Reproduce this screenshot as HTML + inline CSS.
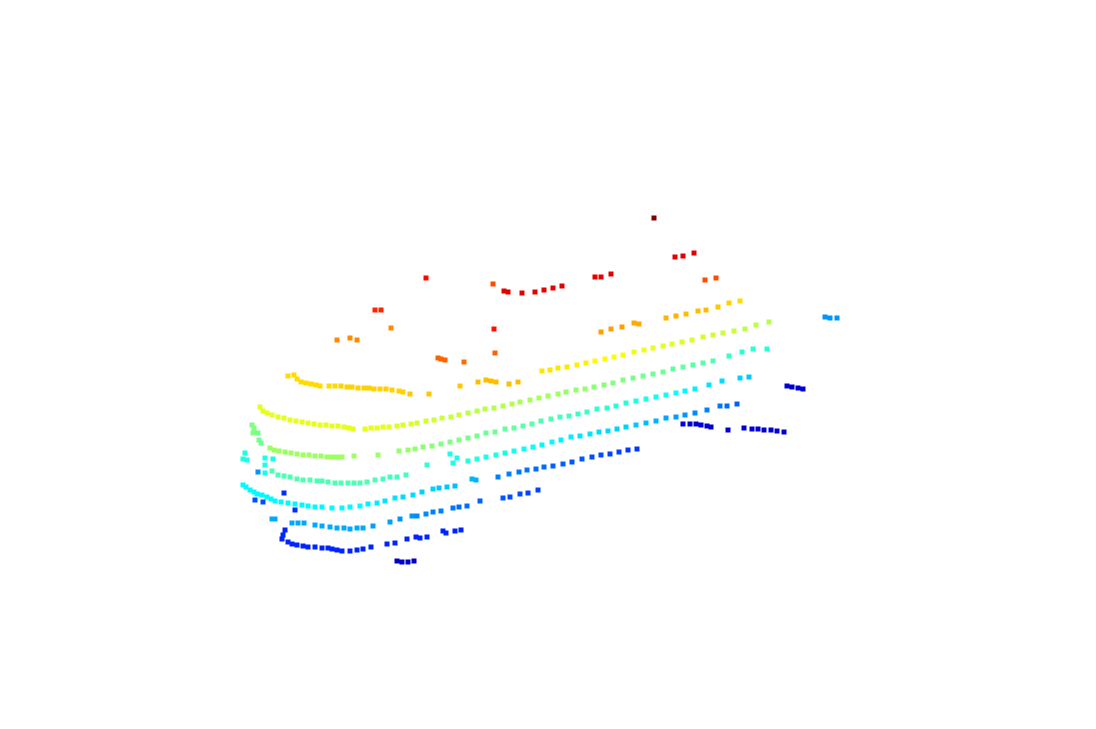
<!DOCTYPE html>
<html><head><meta charset="utf-8"><title>Point cloud</title>
<style>html,body{margin:0;padding:0;background:#fff;}svg{display:block;}</style></head>
<body>
<svg id="chart" width="1096" height="729" viewBox="0 0 1096 729" xmlns="http://www.w3.org/2000/svg">
<rect width="1096" height="729" fill="#fff"/>
<g id="points"></g>
</svg>
<script>
// Each series: flat triples [x, y, z] in projected data units; z = height (colour)
const seriesTop = [
654,218,1.0, 675,257,0.9,683,256,0.9,694,253,0.9, 595,277,0.9,601,277,0.9,611,274,0.9,
504,291,0.9,508,292,0.9,522,293,0.9,535,292,0.9,544,290,0.9,553,288,0.9,562,286,0.9,
426,278,0.87, 493,284,0.8, 705,280,0.8,716,278,0.8, 375,310,0.84,381,310,0.84, 494,329,0.86,
391,328,0.74, 337,340,0.74,350,338,0.74,357,340,0.74, 438,358,0.78,441,359,0.78,445,360,0.78,464,362,0.77, 495,353,0.78
];
const seriesRoof = [
601,332,0.72,611,329,0.72,622,327,0.72,634,323,0.71,639,324,0.71,666,318,0.7,676,316,0.7,686,314,0.69,698,311,0.69,706,310,0.69,718,307,0.68,729,303,0.67,740,301,0.66
];
const seriesYellow = [
288,376,0.66,294,375,0.66,297,379,0.66,301,382,0.66,306,383,0.66,311,384,0.66,316,385,0.66,320,386,0.66,329,386,0.66,335,386,0.66,341,386,0.67,347,387,0.67,352,387,0.67,358,388,0.67,364,388,0.67,369,388,0.67,374,389,0.67,380,389,0.67,386,389,0.67,392,390,0.67,399,391,0.67,403,392,0.67,410,394,0.68,
429,394,0.68,460,386,0.68,478,382,0.69,486,380,0.69,491,381,0.69,496,382,0.69,509,384,0.69,518,382,0.69,
542,371,0.65,550,370,0.65,558,368,0.65,567,367,0.65,577,365,0.64,586,363,0.64,595,361,0.63,605,359,0.63,614,357,0.62,623,355,0.62,634,352,0.61,644,350,0.61,653,348,0.6,663,346,0.6,672,344,0.6,682,342,0.59,692,340,0.59,703,337,0.58,713,335,0.58,723,333,0.57,734,331,0.57,745,329,0.56,756,325,0.56,769,322,0.55
];
const seriesYellowGreen = [
260,407,0.6,263,411,0.6,267,413,0.6,272,415,0.6,278,417,0.6,284,418,0.6,290,420,0.6,296,421,0.6,302,422,0.6,308,423,0.6,314,424,0.6,320,425,0.6,326,425,0.6,332,426,0.6,338,426,0.6,344,427,0.6,349,428,0.6,353,429,0.6,
365,429,0.6,371,428,0.6,377,428,0.6,383,427,0.6,389,427,0.6,397,426,0.59,403,425,0.59,411,424,0.59,417,423,0.58,426,421,0.58,434,420,0.58,442,418,0.57,451,417,0.57,459,415,0.57,468,413,0.56,477,411,0.56,485,409,0.56,494,408,0.55,503,406,0.55,512,404,0.55,520,402,0.54,530,400,0.54,539,398,0.54,548,396,0.53,558,394,0.53,566,392,0.52,576,390,0.52,585,389,0.52,594,387,0.51,604,385,0.51,613,383,0.5,623,380,0.5,633,378,0.49,643,376,0.49,653,374,0.48,663,372,0.48,673,369,0.47,683,367,0.47,693,365,0.46,703,363,0.46,713,361,0.45,729,356,0.43,742,352,0.42,753,349,0.42,767,349,0.41
];
const seriesGreen = [
252,425,0.5,254,428,0.5,253,433,0.5,258,433,0.49,259,440,0.49,261,443,0.48,
270,448,0.53,274,450,0.53,279,451,0.53,285,452,0.53,291,453,0.53,297,454,0.53,303,455,0.53,309,455,0.53,315,456,0.53,321,456,0.53,327,457,0.53,332,457,0.53,337,457,0.53,342,457,0.53,354,456,0.53,
378,455,0.53,399,451,0.52,408,450,0.52,415,449,0.52,423,447,0.51,432,446,0.51,441,444,0.5,450,442,0.5,459,440,0.5,468,438,0.49,477,436,0.49,486,433,0.48,495,432,0.48,505,429,0.47,514,428,0.47,523,426,0.46,532,424,0.46,541,421,0.45,551,419,0.45,560,417,0.44,569,416,0.44,578,414,0.43,587,412,0.43,597,409,0.42,607,408,0.42,616,406,0.41,626,403,0.41,636,401,0.4,646,399,0.4,656,397,0.39,666,395,0.39,676,393,0.38,685,391,0.37,695,389,0.36,709,385,0.35,722,381,0.34,740,378,0.33,749,377,0.32
];
const seriesTeal = [
245,453,0.4,243,459,0.4,247,460,0.4,265,458,0.4,265,465,0.4,265,473,0.39,273,459,0.39,
272,471,0.45,278,475,0.45,284,476,0.45,290,477,0.45,297,479,0.45,303,480,0.45,310,480,0.45,317,481,0.45,322,481,0.45,328,482,0.45,335,483,0.45,341,483,0.45,348,483,0.45,354,483,0.45,360,483,0.45,
367,482,0.45,375,480,0.45,383,479,0.44,390,477,0.44,397,477,0.44,406,475,0.44,
427,465,0.42,450,454,0.4,457,458,0.4,453,463,0.4,468,461,0.41,477,459,0.41,486,457,0.4,496,455,0.4,505,453,0.39,514,451,0.39,524,449,0.38,533,447,0.38,542,445,0.37,552,442,0.37,561,440,0.36,571,437,0.36,580,436,0.35,590,434,0.35,599,432,0.34,608,431,0.34,617,429,0.33,626,427,0.33,636,425,0.32,646,423,0.31,656,421,0.3,666,418,0.29,676,417,0.28,685,415,0.27,695,413,0.26,707,410,0.25,720,406,0.24,727,406,0.23,737,404,0.22
];
const seriesCyan = [
243,485,0.37,246,487,0.37,250,490,0.37,254,492,0.37,257,494,0.37,262,495,0.37,267,497,0.37,271,499,0.37,275,501,0.37,281,502,0.37,288,503,0.37,295,504,0.37,302,505,0.37,308,506,0.37,315,507,0.37,322,507,0.37,332,508,0.37,342,508,0.37,350,507,0.37,360,506,0.37,
368,504,0.36,377,503,0.36,385,501,0.35,395,498,0.35,403,497,0.34,413,495,0.34,422,492,0.33,433,489,0.33,439,488,0.32,447,487,0.32,455,486,0.31,472,479,0.3,476,480,0.3,
498,477,0.25,509,474,0.25,519,472,0.24,527,470,0.24,536,469,0.23,544,467,0.23,553,466,0.22,563,464,0.22,572,462,0.21,582,459,0.21,592,457,0.2,601,455,0.2,610,454,0.19,619,452,0.19,628,450,0.18,637,449,0.18
];
const seriesAzure = [
258,472,0.27,255,500,0.2,263,502,0.2,284,493,0.17,295,510,0.17,
272,519,0.29,275,519,0.29,292,523,0.29,298,523,0.29,304,523,0.29,315,525,0.29,322,526,0.29,330,527,0.29,337,528,0.29,344,528,0.29,350,529,0.29,357,528,0.29,363,528,0.29,
373,526,0.28,390,522,0.28,400,519,0.27,412,516,0.27,417,516,0.26,426,514,0.26,433,512,0.25,441,511,0.25,453,508,0.24,459,507,0.23,467,506,0.23,480,501,0.22,503,498,0.21,510,497,0.2,520,494,0.2,528,493,0.19,538,490,0.19
];
const seriesBlue = [
285,530,0.16,283,535,0.16,282,539,0.16,288,542,0.16,292,544,0.16,297,545,0.16,303,546,0.16,308,547,0.16,315,547,0.16,322,548,0.16,328,548,0.16,332,549,0.16,337,550,0.16,342,551,0.16,350,551,0.16,357,550,0.16,363,549,0.16,
371,547,0.16,387,544,0.16,395,543,0.16,407,539,0.16,416,537,0.16,420,538,0.16,427,537,0.16,443,531,0.16,446,533,0.16,455,531,0.16,461,530,0.16
];
const seriesNavy = [
397,561,0.07,402,562,0.07,408,562,0.07,414,561,0.07,
787,386,0.08,792,387,0.08,798,388,0.08,803,389,0.08,
683,424,0.08,690,424,0.08,696,424,0.08,701,425,0.08,707,426,0.08,711,427,0.08,728,430,0.08,744,428,0.08,752,429,0.08,758,429,0.08,764,430,0.08,771,430,0.08,777,431,0.08,784,432,0.08
];
const seriesFarRight = [825,317,0.27,830,318,0.27,837,318,0.27];

const xDomain = [0, 1096], yDomain = [0, 729];
function xScale(v){ return (v - xDomain[0]) / (xDomain[1]-xDomain[0]) * 1096; }
function yScale(v){ return (v - yDomain[0]) / (yDomain[1]-yDomain[0]) * 729; }
function jet(t){
  t = Math.max(0, Math.min(1, t));
  const r = Math.max(0, Math.min(1, Math.min(4*t-1.5, -4*t+4.5)));
  const g = Math.max(0, Math.min(1, Math.min(4*t-0.5, -4*t+3.5)));
  const b = Math.max(0, Math.min(1, Math.min(4*t+0.5, -4*t+2.5)));
  return 'rgb(' + Math.round(r*255) + ',' + Math.round(g*255) + ',' + Math.round(b*255) + ')';
}
const g = document.getElementById('points');
const allSeries = [['top-points',seriesTop],['roof-row',seriesRoof],['yellow-ring',seriesYellow],['yellowgreen-ring',seriesYellowGreen],['green-ring',seriesGreen],['teal-ring',seriesTeal],['cyan-ring',seriesCyan],['azure-ring',seriesAzure],['blue-ring',seriesBlue],['navy-points',seriesNavy],['far-right-points',seriesFarRight]];
allSeries.forEach(function(s){
  const grp = document.createElementNS('http://www.w3.org/2000/svg','g');
  
  
  const arr = s[1];
  for (let i = 0; i < arr.length; i += 3) {
    const r = document.createElementNS('http://www.w3.org/2000/svg','rect');
    r.setAttribute('x', (xScale(arr[i]) - 2.5).toFixed(1));
    r.setAttribute('y', (yScale(arr[i+1]) - 2.5).toFixed(1));
    r.setAttribute('width', 5);
    r.setAttribute('height', 5);
    r.setAttribute('fill', jet(arr[i+2]));
    
    
    grp.appendChild(r);
  }
  g.appendChild(grp);
});
</script>
</body></html>
